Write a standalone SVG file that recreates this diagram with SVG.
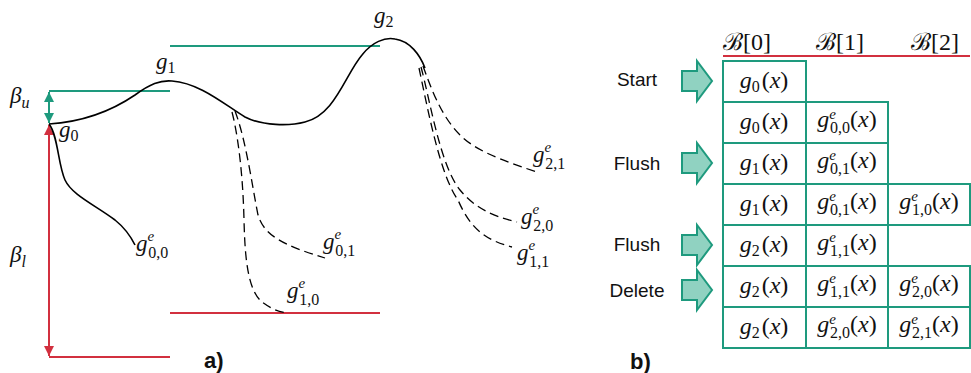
<svg xmlns="http://www.w3.org/2000/svg" width="971" height="373" viewBox="0 0 971 373">
<defs>
<style>
.teal{stroke:#1e9a7e;stroke-width:2;fill:none}
.red{stroke:#d2303f;stroke-width:2;fill:none}
.curve{stroke:#000;stroke-width:1.6;fill:none}
.dash{stroke:#000;stroke-width:1.3;fill:none;stroke-dasharray:9 5}
.m{font-family:"Liberation Serif","DejaVu Serif",serif;font-size:23px;fill:#111}
.c{font-family:"Liberation Serif","DejaVu Serif",serif;font-size:24px;fill:#111}
.i{font-style:italic}
.sub{font-size:16px}
.sup{font-size:15px;font-style:italic}
.lbl{font-family:"Liberation Sans",Arial,sans-serif;font-size:19px;fill:#111}
.big{font-family:"Liberation Sans",Arial,sans-serif;font-size:22px;font-weight:bold;fill:#111}
.cell{fill:#fff;stroke:#1e9a7e;stroke-width:2}
.arrow{fill:#90d2c1;stroke:#1e9a7e;stroke-width:2}
</style>
<marker id="ht" viewBox="0 0 10 10" refX="10" refY="5" markerWidth="5" markerHeight="5" orient="auto-start-reverse"><path d="M0,0 L10,5 L0,10 Z" fill="#1e9a7e"/></marker>
<marker id="hr" viewBox="0 0 10 10" refX="10" refY="5" markerWidth="5" markerHeight="5" orient="auto-start-reverse"><path d="M0,0 L10,5 L0,10 Z" fill="#d2303f"/></marker>
</defs>

<g id="levels">
<line class="teal" x1="170" y1="46" x2="380" y2="46"/>
<line class="teal" x1="49" y1="91" x2="170" y2="91"/>
<line class="red" x1="170" y1="313" x2="380" y2="313"/>
<line class="red" x1="49" y1="357" x2="170" y2="357"/>
</g>

<g id="connectors">
<line class="teal" x1="49" y1="92" x2="49" y2="123" marker-start="url(#ht)" marker-end="url(#ht)"/>
<line class="red" x1="49" y1="125" x2="49" y2="356" marker-start="url(#hr)" marker-end="url(#hr)"/>
<path class="curve" d="M49,124 C80,122 110,112 135,95 C150,84 160,80 172,81 C200,83 225,105 245,117 C262,126 290,126 305,122 C335,115 345,75 362,55 C372,42 385,37 395,39 C410,41 420,55 425,68"/>
<path class="curve" d="M49,124 C58,135 58,165 65,180 C72,195 95,205 115,220 C125,228 130,235 135,245"/>
<path class="dash" d="M232,112 C238,135 243,175 244,220 C245,260 248,290 262,302 C270,308 278,312 288,313"/>
<path class="dash" d="M235,111 C246,140 252,185 258,215 C264,235 282,245 325,258"/>
<path class="dash" d="M423,66 C430,85 440,115 460,135 C475,150 500,160 537,172"/>
<path class="dash" d="M421,67 C430,100 440,165 460,190 C475,208 492,216 517,222"/>
<path class="dash" d="M419,68 C428,110 440,175 458,200 C470,228 485,240 512,247"/>
</g>

<g id="labels-a">
<text class="m" x="10" y="103"><tspan class="i">β</tspan><tspan class="sub i" dy="5">u</tspan></text>
<text class="m" x="10" y="262"><tspan class="i">β</tspan><tspan class="sub i" dy="5">l</tspan></text>
<text class="m" x="59" y="137"><tspan class="i">g</tspan><tspan class="sub" dy="4">0</tspan></text>
<text class="m" x="156" y="69"><tspan class="i">g</tspan><tspan class="sub" dy="4">1</tspan></text>
<text class="m" x="374" y="23"><tspan class="i">g</tspan><tspan class="sub" dy="4">2</tspan></text>
<text class="m" x="136" y="251"><tspan class="i">g</tspan><tspan class="sup" dy="-10">e</tspan><tspan class="sub" dx="-6" dy="17">0,0</tspan></text>
<text class="m" x="323" y="249"><tspan class="i">g</tspan><tspan class="sup" dy="-10">e</tspan><tspan class="sub" dx="-6" dy="17">0,1</tspan></text>
<text class="m" x="287" y="298"><tspan class="i">g</tspan><tspan class="sup" dy="-10">e</tspan><tspan class="sub" dx="-6" dy="17">1,0</tspan></text>
<text class="m" x="533" y="162"><tspan class="i">g</tspan><tspan class="sup" dy="-10">e</tspan><tspan class="sub" dx="-6" dy="17">2,1</tspan></text>
<text class="m" x="521" y="224"><tspan class="i">g</tspan><tspan class="sup" dy="-10">e</tspan><tspan class="sub" dx="-6" dy="17">2,0</tspan></text>
<text class="m" x="517" y="260"><tspan class="i">g</tspan><tspan class="sup" dy="-10">e</tspan><tspan class="sub" dx="-6" dy="17">1,1</tspan></text>
<text class="big" x="204" y="368">a)</text>
</g>

<g id="header">
<text class="c" x="723" y="50">ℬ[0]</text>
<text class="c" x="816" y="50">ℬ[1]</text>
<text class="c" x="911" y="50">ℬ[2]</text>
<line class="red" x1="723" y1="56" x2="970" y2="56"/>
</g>

<g id="actions">
<text class="lbl" x="637" y="86" text-anchor="middle">Start</text>
<path class="arrow" d="M682,71 H697 V61 L712,81 L697,101 V91 H682 Z"/>
<text class="lbl" x="637" y="170" text-anchor="middle">Flush</text>
<path class="arrow" d="M682,153 H697 V143 L712,163 L697,183 V173 H682 Z"/>
<text class="lbl" x="637" y="251" text-anchor="middle">Flush</text>
<path class="arrow" d="M682,235 H697 V225 L712,245 L697,265 V255 H682 Z"/>
<text class="lbl" x="637" y="297" text-anchor="middle">Delete</text>
<path class="arrow" d="M682,280 H697 V270 L712,290 L697,310 V300 H682 Z"/>
<text class="big" x="630" y="369">b)</text>
</g>

<g id="row1">
<rect class="cell" x="723" y="61" width="83" height="41"/>
<text class="c" x="764" y="88" text-anchor="middle"><tspan class="i">g</tspan><tspan class="sub" dy="4">0</tspan><tspan dx="2" dy="-4">(</tspan><tspan class="i">x</tspan>)</text>
</g>
<g id="row2">
<rect class="cell" x="723" y="102" width="83" height="41"/>
<rect class="cell" x="806" y="102" width="82" height="41"/>
<text class="c" x="764" y="129" text-anchor="middle"><tspan class="i">g</tspan><tspan class="sub" dy="4">0</tspan><tspan dx="2" dy="-4">(</tspan><tspan class="i">x</tspan>)</text>
<text class="c" x="847" y="127" text-anchor="middle"><tspan class="i">g</tspan><tspan class="sup" dy="-8">e</tspan><tspan class="sub" dx="-6" dy="14">0,0</tspan><tspan dy="-6">(</tspan><tspan class="i">x</tspan>)</text>
</g>
<g id="row3">
<rect class="cell" x="723" y="143" width="83" height="41"/>
<rect class="cell" x="806" y="143" width="82" height="41"/>
<text class="c" x="764" y="170" text-anchor="middle"><tspan class="i">g</tspan><tspan class="sub" dy="4">1</tspan><tspan dx="2" dy="-4">(</tspan><tspan class="i">x</tspan>)</text>
<text class="c" x="847" y="168" text-anchor="middle"><tspan class="i">g</tspan><tspan class="sup" dy="-8">e</tspan><tspan class="sub" dx="-6" dy="14">0,1</tspan><tspan dy="-6">(</tspan><tspan class="i">x</tspan>)</text>
</g>
<g id="row4">
<rect class="cell" x="723" y="184" width="83" height="41"/>
<rect class="cell" x="806" y="184" width="82" height="41"/>
<rect class="cell" x="888" y="184" width="82" height="41"/>
<text class="c" x="764" y="211" text-anchor="middle"><tspan class="i">g</tspan><tspan class="sub" dy="4">1</tspan><tspan dx="2" dy="-4">(</tspan><tspan class="i">x</tspan>)</text>
<text class="c" x="847" y="209" text-anchor="middle"><tspan class="i">g</tspan><tspan class="sup" dy="-8">e</tspan><tspan class="sub" dx="-6" dy="14">0,1</tspan><tspan dy="-6">(</tspan><tspan class="i">x</tspan>)</text>
<text class="c" x="929" y="209" text-anchor="middle"><tspan class="i">g</tspan><tspan class="sup" dy="-8">e</tspan><tspan class="sub" dx="-6" dy="14">1,0</tspan><tspan dy="-6">(</tspan><tspan class="i">x</tspan>)</text>
</g>
<g id="row5">
<rect class="cell" x="723" y="225" width="83" height="41"/>
<rect class="cell" x="806" y="225" width="82" height="41"/>
<text class="c" x="764" y="252" text-anchor="middle"><tspan class="i">g</tspan><tspan class="sub" dy="4">2</tspan><tspan dx="2" dy="-4">(</tspan><tspan class="i">x</tspan>)</text>
<text class="c" x="847" y="250" text-anchor="middle"><tspan class="i">g</tspan><tspan class="sup" dy="-8">e</tspan><tspan class="sub" dx="-6" dy="14">1,1</tspan><tspan dy="-6">(</tspan><tspan class="i">x</tspan>)</text>
</g>
<g id="row6">
<rect class="cell" x="723" y="266" width="83" height="41"/>
<rect class="cell" x="806" y="266" width="82" height="41"/>
<rect class="cell" x="888" y="266" width="82" height="41"/>
<text class="c" x="764" y="293" text-anchor="middle"><tspan class="i">g</tspan><tspan class="sub" dy="4">2</tspan><tspan dx="2" dy="-4">(</tspan><tspan class="i">x</tspan>)</text>
<text class="c" x="847" y="291" text-anchor="middle"><tspan class="i">g</tspan><tspan class="sup" dy="-8">e</tspan><tspan class="sub" dx="-6" dy="14">1,1</tspan><tspan dy="-6">(</tspan><tspan class="i">x</tspan>)</text>
<text class="c" x="929" y="291" text-anchor="middle"><tspan class="i">g</tspan><tspan class="sup" dy="-8">e</tspan><tspan class="sub" dx="-6" dy="14">2,0</tspan><tspan dy="-6">(</tspan><tspan class="i">x</tspan>)</text>
</g>
<g id="row7">
<rect class="cell" x="723" y="307" width="83" height="41"/>
<rect class="cell" x="806" y="307" width="82" height="41"/>
<rect class="cell" x="888" y="307" width="82" height="41"/>
<text class="c" x="764" y="334" text-anchor="middle"><tspan class="i">g</tspan><tspan class="sub" dy="4">2</tspan><tspan dx="2" dy="-4">(</tspan><tspan class="i">x</tspan>)</text>
<text class="c" x="847" y="332" text-anchor="middle"><tspan class="i">g</tspan><tspan class="sup" dy="-8">e</tspan><tspan class="sub" dx="-6" dy="14">2,0</tspan><tspan dy="-6">(</tspan><tspan class="i">x</tspan>)</text>
<text class="c" x="929" y="332" text-anchor="middle"><tspan class="i">g</tspan><tspan class="sup" dy="-8">e</tspan><tspan class="sub" dx="-6" dy="14">2,1</tspan><tspan dy="-6">(</tspan><tspan class="i">x</tspan>)</text>
</g>
</svg>
